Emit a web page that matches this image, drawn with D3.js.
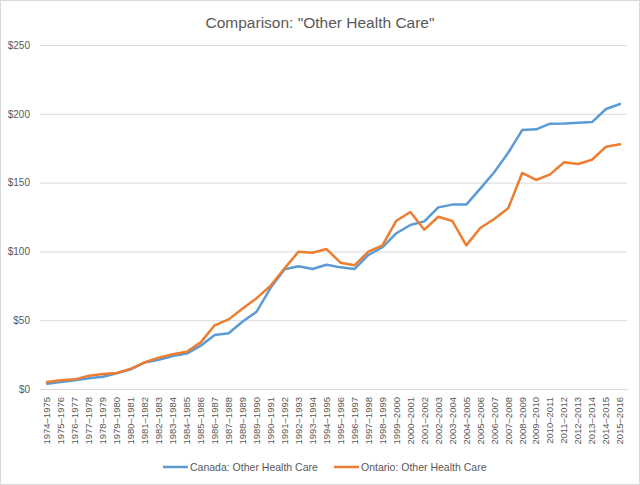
<!DOCTYPE html>
<html><head><meta charset="utf-8">
<script src="https://cdn.jsdelivr.net/npm/d3@7/dist/d3.min.js"></script>
<style>
html,body{margin:0;padding:0;background:#fff;}
svg{display:block;font-family:"Liberation Sans",Arial,sans-serif;}
</style></head>
<body>
<svg id="chart" width="640" height="485"></svg>
<script>
const categories = ["1974–1975","1975–1976","1976–1977","1977–1978","1978–1979","1979–1980","1980–1981","1981–1982","1982–1983","1983–1984","1984–1985","1985–1986","1986–1987","1987–1988","1988–1989","1989–1990","1990–1991","1991–1992","1992–1993","1993–1994","1994–1995","1995–1996","1996–1997","1997–1998","1998–1999","1999–2000","2000–2001","2001–2002","2002–2003","2003–2004","2004–2005","2005–2006","2006–2007","2007–2008","2008–2009","2009–2010","2010–2011","2011–2012","2012–2013","2013–2014","2014–2015","2015–2016"];
const canada = [3.9,5.1,6.3,7.8,8.9,11.5,14.3,19.3,21.3,24,25.7,31.5,39.2,40.5,49,56.2,73.5,87,89.2,87.2,90.3,88.4,87.2,97.4,103,113.2,119.2,121.8,132,134,134,145.6,157.5,171.7,188.2,188.7,192.8,193,193.5,194,203.5,207.1];
const ontario = [5.1,6.3,7,9.7,10.9,11.6,14.8,19.4,22.8,25.2,27.1,33.9,46.3,50.6,58.5,66,75,87.7,99.8,99,101.7,91.8,89.9,99.8,104.4,122.3,128.6,115.8,125.2,122.1,104.4,117,123.5,131.3,157,151.9,156,164.8,163.5,166.6,176.1,177.8];
const yTicks = [0,50,100,150,200,250];
const seriesNames = ["Canada: Other Health Care","Ontario: Other Health Care"];
const seriesColors = ["#5B9BD5","#ED7D31"];
const title = "Comparison: \"Other Health Care\"";

const svg = d3.select("#chart");
const W = 640, H = 485;
const pLeft = 40, pRight = 627, pTop = 45, pBottom = 389;

svg.append("rect").attr("x",0.5).attr("y",0.5).attr("width",W-1).attr("height",H-1)
  .attr("fill","#fff").attr("stroke","#d9d9d9");

const x = d3.scaleBand().domain(categories).range([pLeft,pRight]);
const y = d3.scaleLinear().domain([0,250]).range([pBottom,pTop]);

svg.append("text").attr("x",320).attr("y",28).attr("text-anchor","middle")
  .attr("font-size","15.5px").attr("fill","#595959").text(title);

// gridlines + y labels
const yAxis = d3.axisLeft(y).tickValues(yTicks).tickSize(-(pRight-pLeft)).tickFormat(d=>"$"+d);
const gy = svg.append("g").attr("transform",`translate(${pLeft},0)`).call(yAxis);
gy.select(".domain").remove();
gy.selectAll(".tick line").attr("stroke","#d9d9d9").attr("stroke-width",1);
gy.selectAll(".tick text").attr("x",-10).attr("fill","#595959").attr("font-size","10px")
  .attr("font-family","Liberation Sans, Arial, sans-serif");

// x axis
const xAxis = d3.axisBottom(x).tickSize(0);
const gx = svg.append("g").attr("transform",`translate(0,${pBottom})`).call(xAxis);
gx.select(".domain").attr("stroke","#d9d9d9");
gx.selectAll(".tick text").attr("transform","rotate(-90)").attr("text-anchor","end")
  .attr("x",-8).attr("y",0).attr("dy","0.35em").attr("fill","#595959").attr("font-size","9.5px")
  .attr("font-family","Liberation Sans, Arial, sans-serif");

const line = d3.line().x((d,i)=>x(categories[i])+x.bandwidth()/2).y(d=>y(d));
[canada, ontario].forEach((s,k)=>{
  svg.append("path").datum(s).attr("fill","none").attr("stroke",seriesColors[k])
    .attr("stroke-width",2.5).attr("stroke-linejoin","round").attr("stroke-linecap","round").attr("d",line);
});

// legend
const legX = [163, 334];
seriesNames.forEach((n,k)=>{
  const g = svg.append("g");
  g.append("line").attr("x1",legX[k]).attr("x2",legX[k]+25).attr("y1",467).attr("y2",467)
    .attr("stroke",seriesColors[k]).attr("stroke-width",2.5);
  g.append("text").attr("x",legX[k]+27).attr("y",467).attr("dy","0.35em")
    .attr("font-size","10.5px").attr("fill","#595959").text(n);
});
</script>
</body></html>
